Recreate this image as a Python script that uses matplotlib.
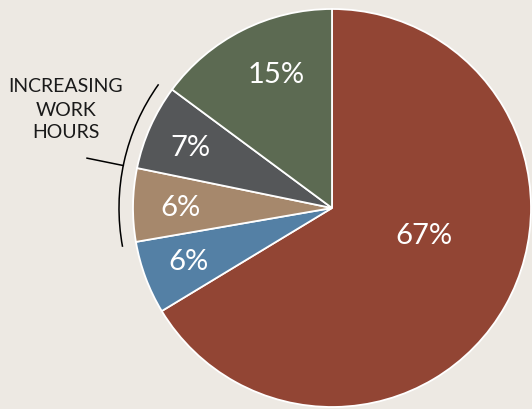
import matplotlib
matplotlib.use("Agg")
import matplotlib.pyplot as plt
from matplotlib.patches import Arc
import numpy as np

# Data
labels = ["67%", "6%", "6%", "7%", "15%"]
values = [67, 6, 6, 7, 15]
colors = ["#924534", "#5480a5", "#a6886c", "#555759", "#5c6a52"]
annotation_lines = ["INCREASING", "WORK", "HOURS"]

W, H = 532, 409
bg = "#ede9e3"
fig = plt.figure(figsize=(W / 100, H / 100), dpi=100, facecolor=bg)
ax = fig.add_axes([0, 0, 1, 1])
ax.set_facecolor(bg)
ax.set_xlim(0, W)
ax.set_ylim(0, H)
ax.set_aspect("equal")
ax.axis("off")

cx, cy, r = 332, H - 208, 199
wedges, texts = ax.pie(values, colors=colors, startangle=90, counterclock=False,
                       center=(cx, cy), radius=r, labels=labels, labeldistance=None,
                       wedgeprops=dict(edgecolor="white", linewidth=1.3))
ax.set_xlim(0, W)
ax.set_ylim(0, H)

label_pos = [(424, 236), (188, 262), (180, 208), (190, 148), (276, 75)]
for lab, (x, y) in zip(labels, label_pos):
    ax.text(x, H - y, lab, color="white", fontsize=21, ha="center", va="center",
            family="Lato", fontweight="normal")

# Bracket arc
ra = 213
ax.add_patch(Arc((cx, cy), 2 * ra, 2 * ra, theta1=144.5, theta2=190.5,
                 color="black", lw=1.1))
ang = np.deg2rad(168.5)
ax.plot([cx + ra * np.cos(ang), cx + 250 * np.cos(ang)],
        [cy + ra * np.sin(ang), cy + 250 * np.sin(ang)], color="black", lw=1.1)

for i, t in enumerate(annotation_lines):
    ax.text(66, H - (87 + 23 * i), t, fontsize=14, ha="center", va="center",
            color="#1a1a1a", family="Lato", fontweight="normal")

fig.savefig("out.png", dpi=100, facecolor=bg)
